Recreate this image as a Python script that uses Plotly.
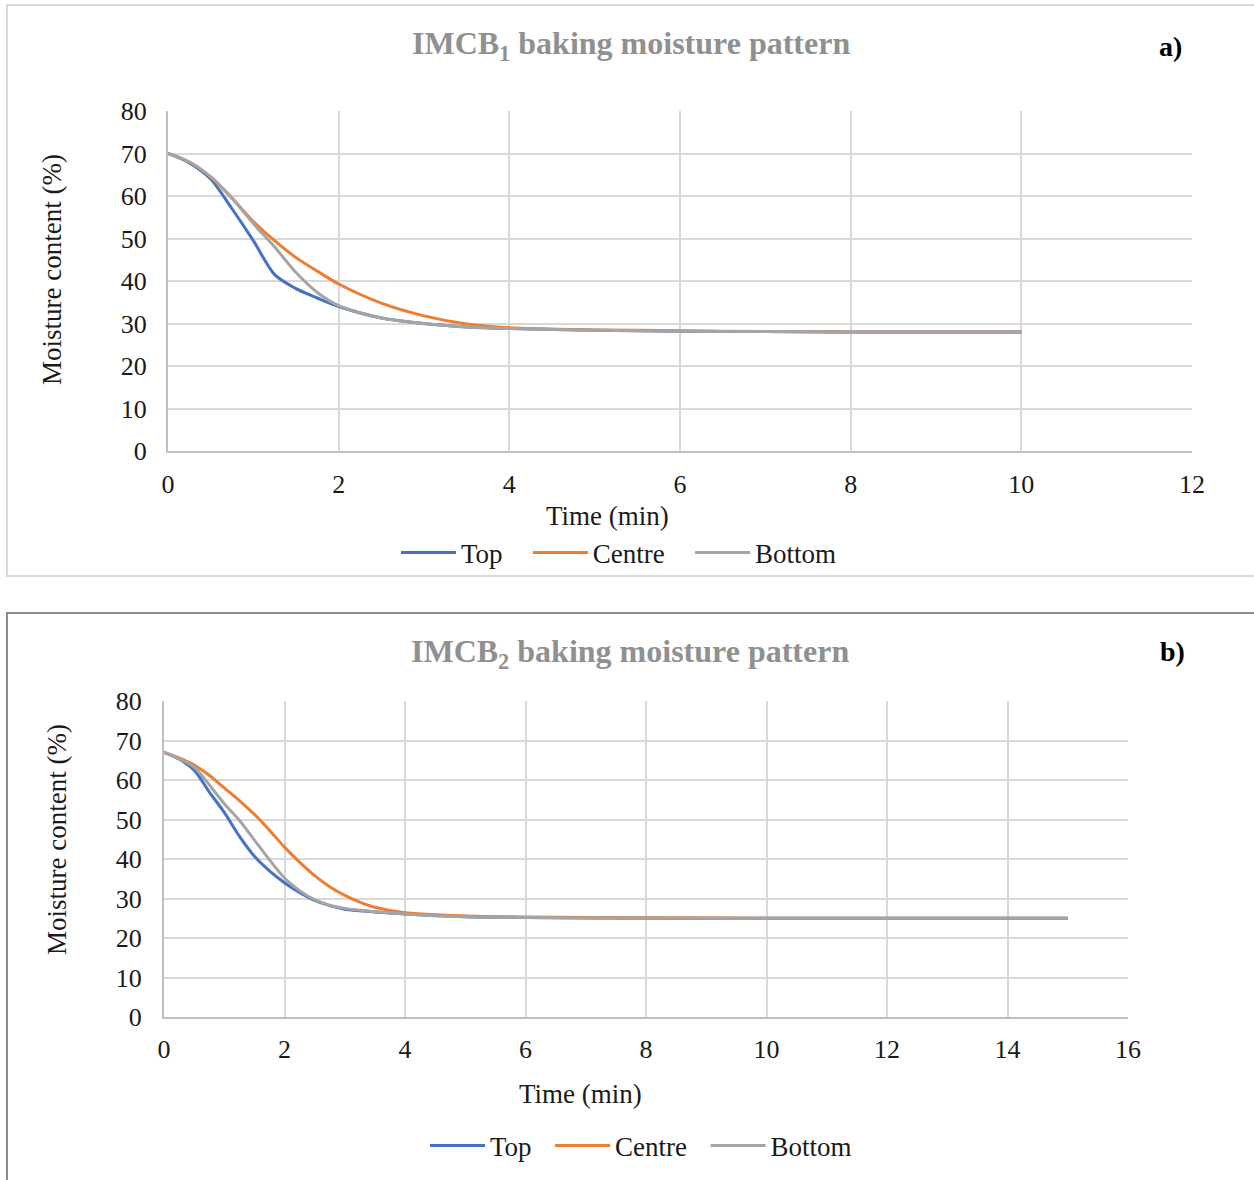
import plotly.graph_objects as go

W, H = 1254, 1180

# ---- IMCB1 baking (panel a) ----
time_a = [0, 0.25, 0.5, 0.75, 1.0, 1.25, 1.5, 1.75, 2.0, 2.5, 3.0, 3.5, 4.0, 5, 6, 7, 8, 9, 10]
top_a = [70, 67.8, 64, 57, 49.5, 41.5, 38.2, 36, 34, 31.3, 30, 29.2, 28.8, 28.4, 28.2, 28.1, 28, 28, 28]
centre_a = [70, 68, 64.5, 59.5, 54, 49.5, 45.5, 42.3, 39.3, 34.8, 31.8, 29.9, 29.0, 28.5, 28.3, 28.1, 28, 28, 28]
bottom_a = [70, 68, 64.5, 59.5, 53.5, 48, 42, 37.3, 34.2, 31.3, 30, 29.2, 28.8, 28.4, 28.2, 28.1, 28, 28, 28]

# ---- IMCB2 baking (panel b) ----
time_b = [0, 0.25, 0.5, 0.75, 1.0, 1.25, 1.5, 1.75, 2.0, 2.25, 2.5, 2.75, 3.0, 3.25, 3.5, 4.0, 5, 6, 8, 10, 12, 14, 15]
top_b = [67, 65.3, 62.5, 57, 51.8, 45.8, 40.7, 37, 34.0, 31.5, 29.5, 28.2, 27.3, 26.9, 26.6, 26.1, 25.4, 25.2, 25, 25, 25, 25, 25]
centre_b = [67, 65.6, 63.8, 61.2, 58, 54.8, 51.3, 47.3, 43, 39.2, 35.8, 33, 30.8, 29.1, 27.8, 26.4, 25.6, 25.3, 25.1, 25, 25, 25, 25]
bottom_b = [67, 65.4, 63.3, 58.8, 54, 49.8, 44.8, 39.8, 35.2, 32, 29.7, 28.3, 27.5, 27, 26.7, 26.1, 25.4, 25.2, 25, 25, 25, 25, 25]

series_names = ["Top", "Centre", "Bottom"]
series_colors = ["#4472C4", "#ED7D31", "#A5A5A5"]

y_ticks = [0, 10, 20, 30, 40, 50, 60, 70, 80]
x_ticks_a = [0, 2, 4, 6, 8, 10, 12]
x_ticks_b = [0, 2, 4, 6, 8, 10, 12, 14, 16]

FONT = "Liberation Serif"
GRID = "#d9d9d9"
PAD_A = "\u00a0" * 3  # breathing room between legend entries
PAD_B = "\u00a0" * 2


def px_x(p):
    return p / W


def px_y(p):
    return 1 - p / H


fig = go.Figure()

for name, color, ys in zip(series_names, series_colors, [top_a, centre_a, bottom_a]):
    fig.add_trace(go.Scatter(x=time_a, y=ys, name=name + PAD_A, mode="lines",
                             line=dict(color=color, width=3, shape="spline", smoothing=0.8),
                             xaxis="x", yaxis="y", legend="legend"))

for name, color, ys in zip(series_names, series_colors, [top_b, centre_b, bottom_b]):
    fig.add_trace(go.Scatter(x=time_b, y=ys, name=name + PAD_B, mode="lines",
                             line=dict(color=color, width=3, shape="spline", smoothing=0.8),
                             xaxis="x2", yaxis="y2", legend="legend2"))

tick_font = dict(family=FONT, size=26, color="#1a1a1a")


def xaxis(domain, anchor, ticks, rng, standoff):
    return dict(domain=domain, anchor=anchor, range=rng, tickvals=ticks,
                showgrid=True, gridcolor=GRID, gridwidth=2,
                showline=True, linecolor="#bfbfbf", linewidth=2,
                zeroline=False, ticks="", tickfont=tick_font, automargin=False,
                ticklabelstandoff=standoff, fixedrange=True)


def yaxis(domain, anchor, standoff):
    return dict(domain=domain, anchor=anchor, range=[0, 80], tickvals=y_ticks,
                showgrid=True, gridcolor=GRID, gridwidth=2,
                showline=True, linecolor="#bfbfbf", linewidth=2,
                zeroline=False, ticks="", tickfont=tick_font, automargin=False,
                ticklabelstandoff=standoff, fixedrange=True)


legend_common = dict(orientation="h", xanchor="center", yanchor="middle",
                     font=dict(family=FONT, size=27, color="#1a1a1a"),
                     bgcolor="rgba(0,0,0,0)", itemwidth=55, tracegroupgap=0)

fig.update_layout(
    width=W, height=H, autosize=False,
    margin=dict(l=0, r=0, t=0, b=0, pad=0, autoexpand=False),
    paper_bgcolor="white", plot_bgcolor="white",
    xaxis=xaxis([px_x(168), px_x(1192)], "y", x_ticks_a, [0, 12], 9),
    yaxis=yaxis([px_y(451), px_y(111)], "x", 14),
    xaxis2=xaxis([px_x(164), px_x(1128)], "y2", x_ticks_b, [0, 16], 8),
    yaxis2=yaxis([px_y(1017), px_y(701)], "x2", 15),
    legend=dict(x=px_x(629), y=px_y(553), **legend_common),
    legend2=dict(x=px_x(648), y=px_y(1146), **legend_common),
    showlegend=True,
)

# Panel frames (open on the sides that run off the page)
xl, xr = px_x(7), 1.0
ya_top, ya_bot = px_y(5), px_y(576)
yb_top, yb_bot = px_y(613), 0.0
fig.add_shape(type="path", xref="paper", yref="paper",
              path=f"M {xr} {ya_top} L {xl} {ya_top} L {xl} {ya_bot} L {xr} {ya_bot}",
              line=dict(color="#d9d9d9", width=2), layer="below")
fig.add_shape(type="path", xref="paper", yref="paper",
              path=f"M {xr} {yb_top} L {xl} {yb_top} L {xl} {yb_bot}",
              line=dict(color="#8c8c8c", width=2), layer="below")

title_font = dict(family=FONT, size=32, color="#909090")
axis_title_font = dict(family=FONT, size=27, color="#1a1a1a")
label_font = dict(family=FONT, size=28, color="black")

annotations = [
    # panel a
    dict(text="<b>IMCB<sub>1</sub> baking moisture pattern</b>", x=px_x(631), y=px_y(45), font=title_font),
    dict(text="<b>a)</b>", x=px_x(1170), y=px_y(47), font=label_font),
    dict(text="Time (min)", x=px_x(607), y=px_y(516), font=axis_title_font),
    dict(text="Moisture content (%)", x=px_x(52), y=px_y(270), font=axis_title_font, textangle=-90),
    # panel b
    dict(text="<b>IMCB<sub>2</sub> baking moisture pattern</b>", x=px_x(630), y=px_y(653), font=title_font),
    dict(text="<b>b)</b>", x=px_x(1172), y=px_y(651), font=label_font),
    dict(text="Time (min)", x=px_x(580), y=px_y(1094), font=axis_title_font),
    dict(text="Moisture content (%)", x=px_x(57), y=px_y(840), font=axis_title_font, textangle=-90),
]
for a in annotations:
    fig.add_annotation(xref="paper", yref="paper", showarrow=False,
                       xanchor="center", yanchor="middle", **a)

fig.write_html("out.html", post_script="document.body.style.margin='0';")
